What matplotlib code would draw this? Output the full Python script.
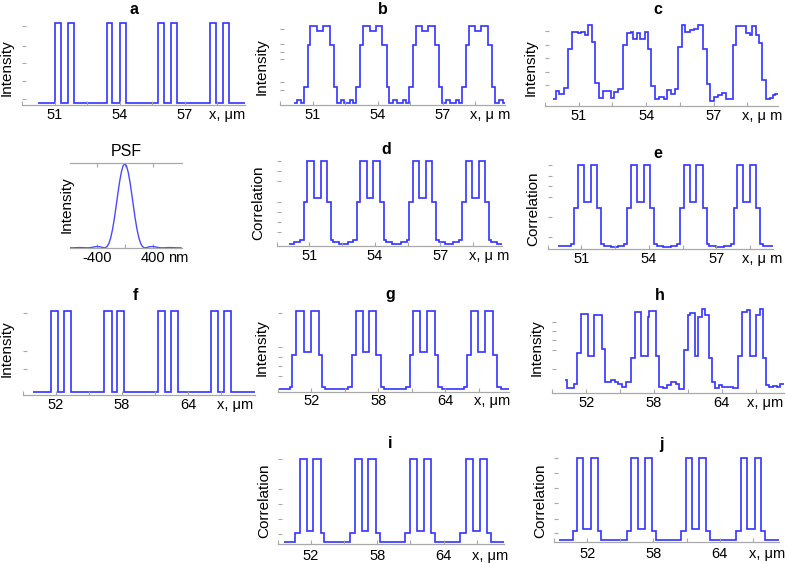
import matplotlib
matplotlib.use('Agg')
import matplotlib.pyplot as plt

plt.rcParams['font.family'] = ['Liberation Sans', 'DejaVu Sans']

W, H = 787, 563
BLUE = '#3333ff'
GREY = '#a8a8a8'

# ---- data: x in um (nm for PSF), values normalised ----
a_edges = [50.23, 51.00, 51.29, 51.61, 51.89, 53.40, 53.67, 54.00, 54.29,
           55.79, 56.07, 56.36, 56.64, 58.19, 58.47, 58.79, 59.07, 59.79]
a_levels = [0, 1, 0, 1, 0, 1, 0, 1, 0, 1, 0, 1, 0, 1, 0, 1, 0]

b_edges = [50.13, 50.28, 50.45, 50.60, 50.78, 50.90, 51.19, 51.48, 51.79, 51.98,
           52.11, 52.30, 52.47, 52.73, 52.88, 53.02, 53.21, 53.34, 53.63, 53.91,
           54.22, 54.42, 54.54, 54.72, 54.90, 55.16, 55.30, 55.44, 55.63, 55.76,
           56.05, 56.34, 56.66, 56.84, 56.97, 57.16, 57.33, 57.59, 57.74, 57.88,
           58.07, 58.19, 58.47, 58.76, 59.08, 59.27, 59.40, 59.59, 59.76, 59.87]
b_levels = [0, 0.04, 0, 0.2, 0.75, 1, 0.94, 1, 0.75, 0.2,
            0, 0.04, 0, 0.04, 0, 0.2, 0.75, 1, 0.94, 1,
            0.75, 0.2, 0, 0.04, 0, 0.04, 0, 0.2, 0.75, 1,
            0.94, 1, 0.75, 0.2, 0, 0.04, 0, 0.04, 0, 0.2,
            0.75, 1, 0.94, 1, 0.75, 0.2, 0, 0.04, 0]

c_edges = [49.86, 49.97, 50.14, 50.33, 50.51, 50.69, 50.83, 50.97, 51.11, 51.29,
           51.43, 51.60, 51.74, 51.91, 52.07, 52.26, 52.43, 52.57, 52.74, 52.97,
           53.14, 53.31, 53.43, 53.57, 53.74, 53.93, 54.07, 54.21, 54.40, 54.57,
           54.79, 54.93, 55.11, 55.26, 55.43, 55.57, 55.71, 55.93, 56.14, 56.31,
           56.54, 56.71, 56.83, 57.00, 57.17, 57.36, 57.57, 57.86, 58.00, 58.43,
           58.60, 58.71, 58.86, 59.00, 59.17, 59.31, 59.50, 59.64, 59.74, 59.86]
c_levels = [0.09, 0.20, 0.16, 0.24, 0.74, 0.96, 0.97, 0.95, 0.96, 0.93,
            1.06, 0.83, 0.30, 0.11, 0.19, 0.20, 0.11, 0.18, 0.22, 0.80,
            0.95, 0.96, 0.88, 0.95, 0.88, 0.96, 0.74, 0.26, 0.09, 0.12,
            0.09, 0.21, 0.16, 0.22, 0.77, 1.06, 0.97, 0.99, 1.01, 1.06,
            0.75, 0.29, 0.06, 0.12, 0.14, 0.17, 0.09, 0.80, 1.04, 0.95,
            0.93, 1.04, 0.93, 0.82, 0.34, 0.09, 0.10, 0.14, 0.16]

psf_nm = [-800, -750, -700, -650, -600, -550, -500, -450, -400, -350,
          -325, -300, -275, -250, -225, -200, -175, -150, -125, -100, -75, -50, -25,
          0,
          25, 50, 75, 100, 125, 150, 175, 200, 225, 250, 275, 300, 325,
          350, 400, 450, 500, 550, 600, 650, 700, 750, 800]
psf_int = [0.0004, 0.0002, 0.002, 0.004, 0.003, 0.0004, 0.0015, 0.009, 0.017, 0.013,
           0.007, 0.001, 0.002, 0.018, 0.055, 0.121, 0.217, 0.340, 0.485, 0.636, 0.779, 0.895, 0.973,
           1.0,
           0.973, 0.895, 0.779, 0.636, 0.485, 0.340, 0.217, 0.121, 0.055, 0.018, 0.002, 0.001, 0.007,
           0.013, 0.017, 0.009, 0.0015, 0.0004, 0.003, 0.004, 0.002, 0.0002, 0.0004]

d_edges = [50.06, 50.30, 50.57, 50.75, 50.90, 51.22, 51.51, 51.82, 51.97, 52.08,
           52.35, 52.75, 53.02, 53.17, 53.31, 53.63, 53.92, 54.22, 54.40, 54.50,
           54.78, 55.20, 55.48, 55.58, 55.73, 56.03, 56.35, 56.64, 56.81, 56.93,
           57.20, 57.60, 57.87, 58.01, 58.16, 58.47, 58.76, 59.07, 59.22, 59.34,
           59.60, 59.82]
d_levels = [0, 0.02, 0.05, 0.5, 1, 0.55, 1, 0.5, 0.05, 0.02,
            0, 0.02, 0.05, 0.5, 1, 0.55, 1, 0.5, 0.05, 0.02,
            0, 0.02, 0.05, 0.5, 1, 0.55, 1, 0.5, 0.05, 0.02,
            0, 0.02, 0.05, 0.5, 1, 0.55, 1, 0.5, 0.05, 0.02,
            0]

e_edges = [49.98, 50.30, 50.55, 50.69, 50.83, 51.11, 51.42, 51.71, 51.88, 51.99,
           52.30, 52.65, 52.91, 53.05, 53.19, 53.47, 53.78, 54.06, 54.23, 54.35,
           54.65, 55.00, 55.26, 55.40, 55.55, 55.83, 56.12, 56.41, 56.58, 56.69,
           57.00, 57.35, 57.64, 57.78, 57.92, 58.20, 58.51, 58.79, 58.96, 59.08,
           59.30, 59.54]
e_levels = [0.01, 0.02, 0.04, 0.48, 1, 0.55, 1, 0.48, 0.04, 0.02,
            0, 0.02, 0.04, 0.48, 1, 0.55, 1, 0.48, 0.04, 0.02,
            0, 0.02, 0.04, 0.48, 1, 0.55, 1, 0.48, 0.04, 0.02,
            0, 0.02, 0.04, 0.48, 1, 0.55, 1, 0.48, 0.04, 0.02,
            0.01]

f_edges = [49.92, 51.57, 52.23, 52.78, 53.39, 56.40, 57.06, 57.58, 58.22,
           61.25, 61.89, 62.41, 63.05, 66.11, 66.69, 67.27, 67.91, 70.07]
f_levels = [0, 1, 0, 1, 0, 1, 0, 1, 0, 1, 0, 1, 0, 1, 0, 1, 0]

g_edges = [49.13, 50.07, 50.31, 50.67, 51.32, 51.94, 52.65, 52.98, 53.24,
           55.26, 55.64, 56.00, 56.59, 57.19, 57.78, 58.22, 58.52,
           60.44, 60.80, 61.10, 61.72, 62.37, 63.05, 63.35, 63.70,
           65.63, 65.93, 66.31, 66.90, 67.56, 68.24, 68.59, 68.98, 69.69]
g_levels = [0, 0.02, 0.43, 1, 0.47, 1, 0.43, 0.02,
            0, 0.02, 0.43, 1, 0.47, 1, 0.43, 0.02,
            0, 0.02, 0.43, 1, 0.47, 1, 0.43, 0.02,
            0, 0.02, 0.43, 1, 0.47, 1, 0.43, 0.02, 0]

h_edges = [50.10, 50.33, 50.60, 50.88, 51.22, 51.58, 52.14, 52.70, 53.40, 53.67,
           54.23, 54.51, 54.79, 55.13, 55.49, 55.96, 56.33, 56.88, 57.44, 57.58,
           58.14, 58.42, 58.84, 59.12, 59.54, 59.95, 60.23, 60.65, 60.99, 61.21,
           61.63, 61.91, 62.27, 62.55, 62.88, 63.11, 63.44, 63.72, 64.00, 64.98,
           65.45, 65.82, 66.23, 66.51, 67.02, 67.35, 67.68, 67.91, 68.19, 68.52,
           68.89, 69.16, 69.53]
h_levels = [0.15, 0.04, 0.05, 0.10, 0.48, 0.97, 0.44, 0.96, 0.53, 0.12,
            0.14, 0.12, 0.10, 0.06, 0.12, 0.42, 1.00, 0.44, 0.94, 1.01,
            0.44, 0.06, 0.04, 0.08, 0.12, 0.10, 0.03, 0.52, 0.96, 0.98,
            0.44, 0.94, 1.04, 0.96, 0.42, 0.12, 0.04, 0.08, 0.06, 0.05,
            0.45, 1.00, 1.02, 0.44, 0.96, 1.04, 0.42, 0.08, 0.06, 0.07,
            0.06, 0.10]

i_edges = [49.60, 50.54, 50.98, 51.65, 52.20, 52.88, 53.23,
           55.57, 55.95, 56.62, 57.21, 57.91, 58.29,
           60.49, 60.93, 61.60, 62.24, 62.89, 63.27,
           65.52, 65.99, 66.69, 67.28, 67.95, 68.33, 69.50]
i_levels = [0, 0.11, 1, 0.13, 1, 0.11,
            0, 0.11, 1, 0.13, 1, 0.11,
            0, 0.11, 1, 0.13, 1, 0.11,
            0, 0.11, 1, 0.13, 1, 0.11, 0]

j_edges = [49.42, 50.67, 51.05, 51.64, 52.30, 52.95, 53.27,
           55.56, 56.00, 56.59, 57.24, 57.87, 58.22,
           60.50, 60.95, 61.54, 62.16, 62.81, 63.17,
           65.48, 65.93, 66.52, 67.17, 67.79, 68.15, 69.39]
j_levels = [0, 0.11, 1, 0.14, 1, 0.11,
            0, 0.11, 1, 0.14, 1, 0.11,
            0, 0.11, 1, 0.14, 1, 0.11,
            0, 0.11, 1, 0.14, 1, 0.11, 0]

top_ticks = [51, 54, 57]
top_labels = ['51', '54', '57']
top_minor = [49.5, 52.5, 55.5, 58.5]
bot_ticks = [52, 58, 64]
bot_labels = ['52', '58', '64']
bot_minor = [49, 55, 61, 67]
psf_ticks = [-400, 0, 400]
psf_labels = ['-400', '', '400']


def box(l, t, r, b):
    return [l / W, 1 - b / H, (r - l) / W, (b - t) / H]


def put(fig, x, y, s, **kw):
    fig.text(x / W, 1 - y / H, s, **kw)


def panel(fig, edges, levels, pos, xlim, ylim, yticks, top, title, title_xy,
          ylabel, ylabel_xy, unit, unit_dx, pad=2):
    ax = fig.add_axes(box(*pos))
    ax.stairs(levels, edges, baseline=None, color=BLUE, lw=1.2)
    ax.set_xlim(xlim)
    ax.set_ylim(ylim)
    for s in ['top', 'right', 'left']:
        ax.spines[s].set_visible(False)
    ax.spines['bottom'].set_color(GREY)
    ax.spines['bottom'].set_linewidth(0.9)
    if top:
        ax.set_xticks(top_ticks, top_labels)
        ax.set_xticks(top_minor, minor=True)
    else:
        ax.set_xticks(bot_ticks, bot_labels)
        ax.set_xticks(bot_minor, minor=True)
    ax.set_yticks(yticks, [])
    ax.tick_params(which='both', direction='in', length=3, width=0.8, color=GREY,
                   labelsize=10.5, pad=pad)
    ax.annotate(unit, xy=(1, 0), xycoords='axes fraction',
                xytext=(unit_dx * 0.72, -pad), textcoords='offset points',
                ha='right', va='top', fontsize=10.5)
    put(fig, *title_xy, title, ha='center', va='center', fontsize=11.5, fontweight='bold')
    put(fig, *ylabel_xy, ylabel, rotation=90, ha='right', va='center', fontsize=11)
    return ax


fig = plt.figure(figsize=(W / 100, H / 100), dpi=100)

panel(fig, a_edges, a_levels, (22, 20, 245, 105), (50.23, 59.79), (-0.021, 1.041),
      [0.05, 0.28, 0.5, 0.72, 0.96], True, 'a', (133.5, 10), 'Intensity', (14, 67.5),
      'x, \u03bcm', 0)
panel(fig, b_edges, b_levels, (280, 23, 505, 105), (50.13, 59.87), (-0.031, 1.039),
      [0.17, 0.27, 0.57, 0.66, 0.76, 0.96], True, 'b', (383, 10), 'Intensity', (269, 66.7),
      'x, \u03bc m', 5)
panel(fig, c_edges, c_levels, (545, 22, 778, 106), (49.86, 59.86), (0, 1.096),
      [0.27, 0.45, 0.63, 0.80, 0.98], True, 'c', (658, 10), 'Intensity', (538, 67.5),
      'x, \u03bc m', 4)
panel(fig, d_edges, d_levels, (276.7, 157.7, 501.7, 246), (50.06, 59.82), (-0.024, 1.036),
      [0.14, 0.26, 0.39, 0.51, 0.76, 0.88, 1.0], True, 'd', (386.7, 150), 'Correlation',
      (265.7, 202.5), 'x, \u03bc m', 8)
panel(fig, e_edges, e_levels, (547.7, 162, 773.3, 249.3), (49.98, 59.54), (-0.024, 1.036),
      [0.13, 0.37, 0.615, 0.745, 0.87, 1.0], True, 'e', (658.3, 153), 'Correlation',
      (540, 208.3), 'x, \u03bc m', 9)
panel(fig, f_edges, f_levels, (22.7, 307.7, 255, 395), (49.92, 70.07), (-0.041, 1.037),
      [0.276, 0.5, 0.967], False, 'f', (135, 295), 'Intensity', (14, 349),
      'x, \u03bcm', -2)
panel(fig, g_edges, g_levels, (277.7, 308, 509, 391.7), (49.13, 69.69), (-0.035, 1.038),
      [0.16, 0.29, 0.415, 0.54, 0.97], False, 'g', (390, 295), 'Intensity', (269, 348),
      'x, \u03bcm', 1)
panel(fig, h_edges, h_levels, (552.3, 305, 784.3, 393.3), (50.10, 69.53), (-0.021, 1.084),
      [0.28, 0.52, 0.64, 0.76, 0.875], False, 'h', (660, 295), 'Intensity', (544, 347.5),
      'x, \u03bcm', -1)
panel(fig, i_edges, i_levels, (277.7, 455.5, 504.3, 544), (49.60, 69.50), (-0.024, 1.036),
      [0.09, 0.27, 0.45, 0.63, 1.0], False, 'i', (390, 443.3), 'Correlation', (271, 500.5),
      'x, \u03bcm', 4, pad=3.5)
panel(fig, j_edges, j_levels, (554.3, 454.7, 779, 541.7), (49.42, 69.39), (-0.02, 1.036),
      [0.08, 0.26, 0.445, 0.63, 0.81, 1.0], False, 'j', (661.7, 445), 'Correlation',
      (547.7, 500.5), 'x, \u03bcm', 6, pad=3.5)

# PSF panel
ax = fig.add_axes(box(70, 163.3, 182, 248.3))
ax.plot(psf_nm, psf_int, color='#4a4aff', lw=1.0)
ax.set_xlim(-780, 815)
ax.set_ylim(-0.005, 1.005)
for s in ['left', 'right']:
    ax.spines[s].set_visible(False)
for s in ['top', 'bottom']:
    ax.spines[s].set_color(GREY)
    ax.spines[s].set_linewidth(0.9)
ax.set_xticks(psf_ticks, psf_labels)
ax.set_yticks([])
ax.tick_params(direction='in', length=3, width=0.8, color=GREY, labelsize=10.5,
               pad=2, top=True)
ax.annotate('nm', xy=(1, 0), xycoords='axes fraction', xytext=(6 * 0.72, -2),
            textcoords='offset points', ha='right', va='top', fontsize=10.5)
put(fig, 126.7, 151.7, 'PSF', ha='center', va='center', fontsize=11.5)
put(fig, 74, 205, 'Intensity', rotation=90, ha='right', va='center', fontsize=11)

fig.savefig('out.png', dpi=100)
